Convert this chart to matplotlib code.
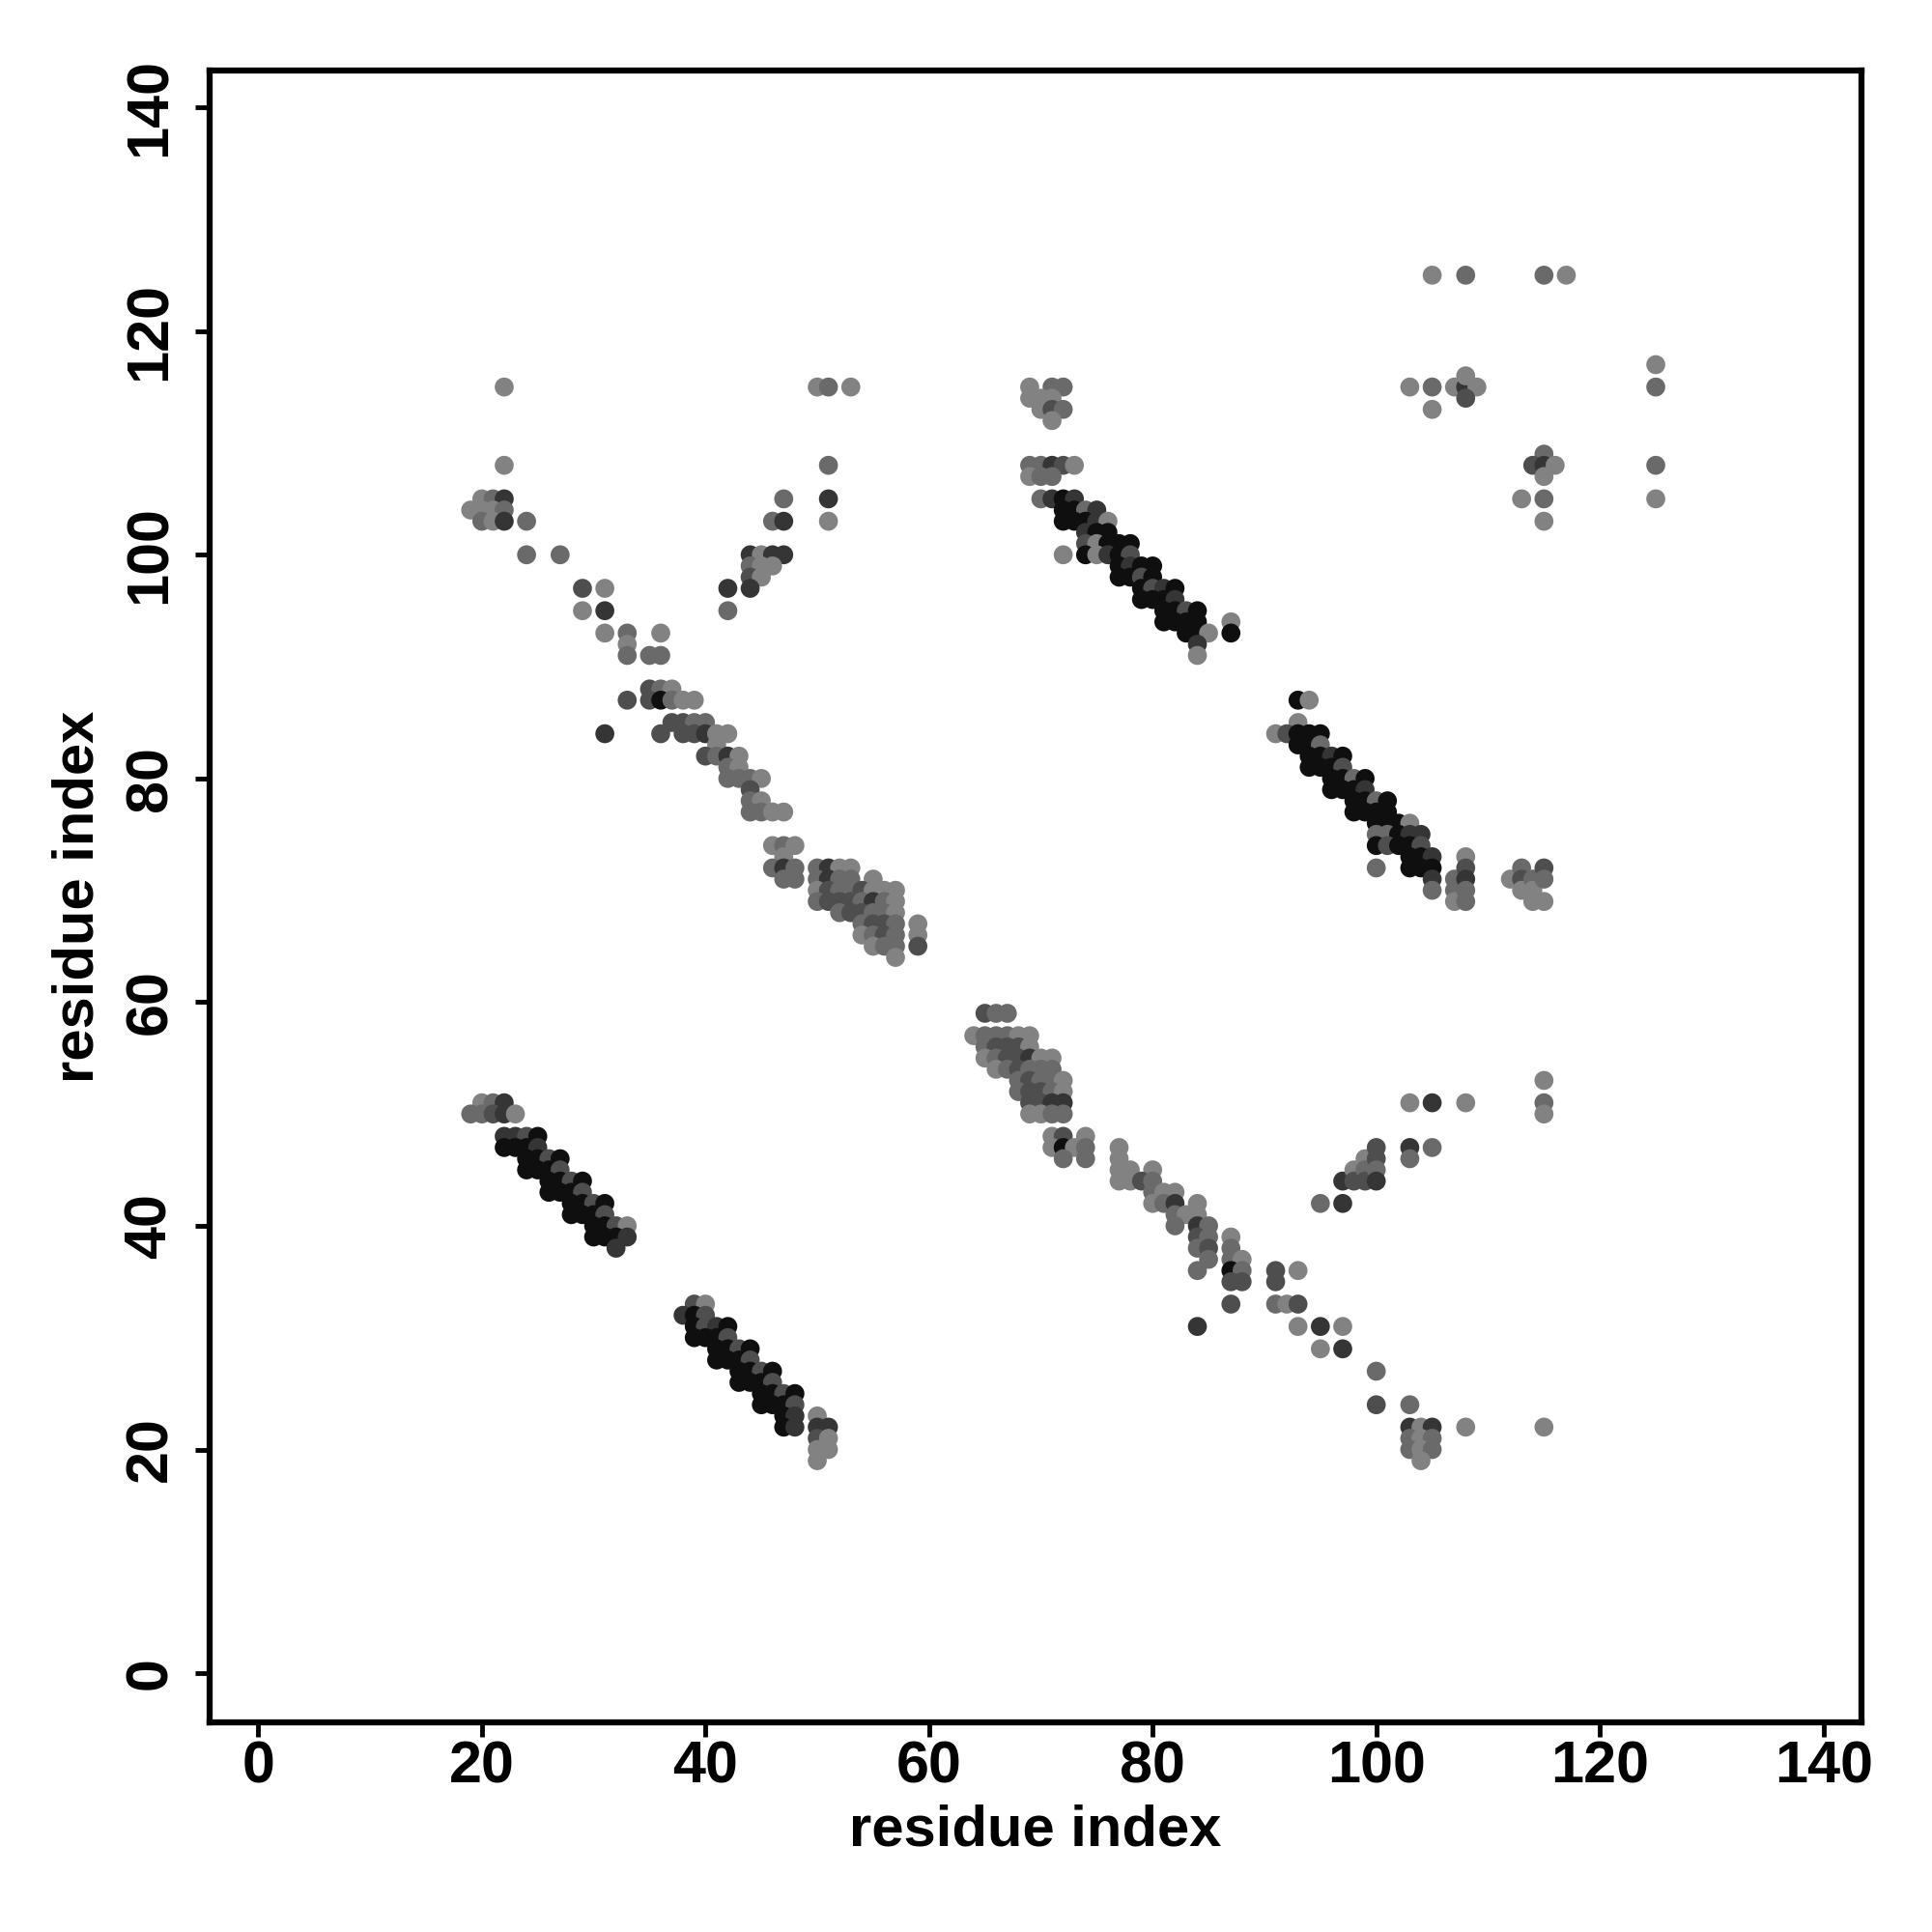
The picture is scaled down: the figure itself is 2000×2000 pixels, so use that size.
import matplotlib
matplotlib.use("Agg")
import matplotlib.pyplot as plt

# contact map points: (i, j, shade)  shade k=black .. l=light grey
band_a = [(20,51,'l'),(21,51,'g'),(22,51,'d'),
          (19,50,'g'),(20,50,'g'),(21,50,'m'),(22,50,'d'),(23,50,'l'),
          (22,48,'d'),(23,48,'d'),(24,48,'m'),(25,48,'k'),
          (22,47,'k'),(23,47,'k'),(24,47,'k'),(25,47,'d'),
          (24,46,'k'),(25,46,'k'),(26,46,'m'),(27,46,'k'),
          (24,45,'k'),(25,45,'k'),(26,45,'k'),(27,45,'m'),
          (26,44,'k'),(27,44,'k'),(28,44,'m'),(29,44,'k'),
          (26,43,'k'),(27,43,'k'),(28,43,'k'),(29,43,'m'),
          (28,42,'k'),(29,42,'k'),(30,42,'m'),(31,42,'k'),
          (28,41,'k'),(29,41,'k'),(30,41,'k'),(31,41,'m'),
          (30,40,'k'),(31,40,'k'),(32,40,'m'),(33,40,'l'),
          (30,39,'k'),(31,39,'k'),(32,39,'k'),(33,39,'d'),
          (32,38,'d')]

band_b = [(39,33,'m'),(40,33,'l'),
          (38,32,'d'),(39,32,'k'),(40,32,'m'),
          (39,31,'k'),(40,31,'m'),(41,31,'d'),(42,31,'k'),
          (39,30,'k'),(40,30,'k'),(41,30,'k'),(42,30,'m'),
          (41,29,'k'),(42,29,'k'),(43,29,'m'),(44,29,'k'),
          (41,28,'k'),(42,28,'k'),(43,28,'k'),(44,28,'m'),
          (43,27,'k'),(44,27,'k'),(45,27,'m'),(46,27,'k'),
          (43,26,'k'),(44,26,'k'),(45,26,'k'),(46,26,'m'),
          (45,25,'k'),(46,25,'k'),(47,25,'m'),(48,25,'k'),
          (45,24,'k'),(46,24,'k'),(47,24,'k'),(48,24,'m'),
          (47,23,'k'),(48,23,'d'),(47,22,'k'),(48,22,'d'),
          (50,23,'l'),(50,22,'d'),(51,22,'d'),(50,21,'m'),(51,21,'l'),
          (50,20,'l'),(51,20,'l'),(50,19,'l')]

band_c = [(22,115,'l'),(22,108,'l'),
          (20,105,'l'),(21,105,'g'),(22,105,'d'),
          (19,104,'l'),(20,104,'l'),(21,104,'l'),(22,104,'g'),
          (20,103,'g'),(21,103,'l'),(22,103,'d'),(24,103,'g'),
          (24,100,'g'),(27,100,'g'),
          (29,97,'m'),(31,97,'l'),(29,95,'l'),(31,95,'d'),
          (31,93,'l'),(33,93,'g'),(36,93,'l'),(33,92,'l'),
          (33,91,'g'),(35,91,'g'),(36,91,'g'),
          (35,88,'m'),(36,88,'g'),(37,88,'l'),
          (33,87,'m'),(35,87,'m'),(36,87,'k'),(37,87,'g'),(38,87,'l'),(39,87,'l'),
          (37,85,'m'),(38,85,'m'),(39,85,'g'),(40,85,'g'),
          (31,84,'d'),(36,84,'m'),(38,84,'m'),(39,84,'m'),(40,84,'d'),(41,84,'l'),(42,84,'l'),
          (41,83,'l'),
          (40,82,'m'),(41,82,'g'),(42,82,'d'),(43,82,'l'),
          (42,81,'g'),(43,81,'l'),
          (42,80,'g'),(43,80,'g'),(44,80,'g'),(45,80,'l'),
          (44,79,'m'),(44,78,'g'),(45,78,'l'),
          (44,77,'g'),(45,77,'g'),(46,77,'l'),(47,77,'l'),
          (46,74,'l'),(47,74,'g'),(48,74,'l'),(47,73,'l'),
          (46,72,'g'),(47,72,'d'),(48,72,'g'),(50,72,'g'),(51,72,'d'),(52,72,'l'),(53,72,'l'),
          (47,71,'g'),(48,71,'g'),(50,71,'g'),(51,71,'d'),(52,71,'g'),(53,71,'g'),(55,71,'l'),
          (50,70,'l'),(51,70,'m'),(52,70,'g'),(53,70,'g'),(54,70,'m'),(55,70,'l'),(56,70,'l'),(57,70,'l'),
          (50,69,'g'),(51,69,'m'),(52,69,'m'),(53,69,'m'),(54,69,'g'),(55,69,'d'),(56,69,'g'),(57,69,'l'),
          (52,68,'g'),(53,68,'m'),(54,68,'m'),(55,68,'g'),(56,68,'g'),(57,68,'l'),
          (54,67,'g'),(55,67,'m'),(56,67,'m'),(57,67,'g'),(59,67,'l'),
          (54,66,'l'),(55,66,'g'),(56,66,'m'),(57,66,'g'),(59,66,'l'),
          (55,65,'l'),(56,65,'g'),(57,65,'g'),(59,65,'m'),
          (57,64,'l')]

band_c2 = [(50,115,'l'),(51,115,'g'),(53,115,'l'),(51,108,'g'),
           (47,105,'g'),(51,105,'d'),
           (46,103,'g'),(47,103,'d'),(51,103,'l'),
           (44,100,'d'),(45,100,'l'),(46,100,'d'),(47,100,'d'),
           (44,99,'g'),(45,99,'l'),(46,99,'l'),(44,98,'m'),(45,98,'l'),
           (42,97,'d'),(44,97,'d'),(42,95,'g')]

band_d = [(69,115,'l'),(71,115,'g'),(72,115,'g'),
          (69,114,'l'),(70,114,'l'),(71,114,'l'),
          (70,113,'l'),(71,113,'m'),(72,113,'g'),(71,112,'l'),
          (69,108,'g'),(70,108,'g'),(71,108,'d'),(72,108,'m'),(73,108,'l'),
          (69,107,'l'),(70,107,'g'),(71,107,'g'),
          (70,105,'g'),(71,105,'d'),(72,105,'k'),(73,105,'d'),
          (72,104,'k'),(73,104,'k'),(74,104,'g'),(75,104,'d'),
          (72,103,'k'),(73,103,'k'),(74,103,'k'),(75,103,'d'),(76,103,'l'),
          (74,102,'d'),(75,102,'k'),(76,102,'k'),
          (74,101,'m'),(75,101,'l'),(76,101,'k'),(77,101,'k'),(78,101,'k'),
          (72,100,'l'),(74,100,'k'),(75,100,'l'),(76,100,'d'),(77,100,'k'),(78,100,'m'),
          (77,99,'k'),(78,99,'d'),(79,99,'k'),(80,99,'k'),
          (77,98,'k'),(78,98,'k'),(79,98,'m'),(80,98,'k'),
          (79,97,'k'),(80,97,'m'),(81,97,'d'),(82,97,'k'),
          (79,96,'k'),(80,96,'k'),(81,96,'k'),(82,96,'d'),
          (81,95,'k'),(82,95,'k'),(83,95,'m'),(84,95,'k'),
          (81,94,'k'),(82,94,'k'),(83,94,'k'),(84,94,'k'),
          (83,93,'k'),(84,93,'k'),(85,93,'l'),
          (87,94,'l'),(87,93,'k'),(84,92,'d'),(84,91,'l')]

band_e = [(65,59,'m'),(66,59,'g'),(67,59,'g'),
          (64,57,'l'),(65,57,'g'),(66,57,'g'),(67,57,'g'),(68,57,'l'),(69,57,'l'),
          (65,56,'g'),(66,56,'m'),(67,56,'m'),(68,56,'m'),(69,56,'l'),
          (65,55,'l'),(66,55,'g'),(67,55,'m'),(68,55,'m'),(69,55,'d'),(70,55,'l'),(71,55,'l'),
          (66,54,'l'),(67,54,'g'),(68,54,'m'),(69,54,'g'),(70,54,'g'),(71,54,'g'),
          (68,53,'g'),(69,53,'m'),(70,53,'g'),(71,53,'g'),(72,53,'l'),
          (68,52,'g'),(69,52,'m'),(70,52,'m'),(71,52,'g'),(72,52,'l'),
          (69,51,'m'),(70,51,'m'),(71,51,'d'),(72,51,'d'),
          (69,50,'l'),(70,50,'l'),(71,50,'g'),(72,50,'g'),
          (71,48,'l'),(72,48,'m'),(74,48,'l'),
          (71,47,'l'),(72,47,'k'),(73,47,'l'),(74,47,'g'),
          (72,46,'g'),(74,46,'g'),
          (77,47,'l'),(77,46,'l'),
          (77,45,'l'),(78,45,'l'),(80,45,'l'),
          (77,44,'l'),(78,44,'l'),(79,44,'m'),(80,44,'g'),
          (80,43,'g'),(81,43,'l'),(82,43,'l'),
          (80,42,'l'),(81,42,'g'),(82,42,'d'),(84,42,'l'),
          (82,41,'g'),(83,41,'l'),(84,41,'l'),
          (82,40,'g'),(84,40,'d'),(85,40,'g'),
          (84,39,'m'),(85,39,'g'),(87,39,'l'),
          (84,38,'g'),(85,38,'m'),(87,38,'g'),
          (85,37,'g'),(87,37,'g'),(88,37,'l'),
          (84,36,'g'),(87,36,'k'),(88,36,'g'),
          (87,35,'m'),(88,35,'m'),(87,33,'m'),(84,31,'d')]

band_f = [(91,36,'m'),(91,35,'m'),(91,33,'g'),(92,33,'l'),(93,36,'l'),(93,33,'m'),(93,31,'l'),
          (95,42,'g'),(95,31,'d'),(95,29,'l'),
          (97,44,'d'),(97,42,'d'),(97,31,'l'),(97,29,'d'),
          (98,45,'l'),(98,44,'m'),(99,46,'l'),(99,45,'g'),(99,44,'m'),
          (100,47,'m'),(100,46,'m'),(100,45,'g'),(100,44,'d'),
          (100,27,'g'),(100,24,'m'),
          (103,47,'d'),(103,46,'g'),(105,47,'g'),
          (103,51,'l'),(105,51,'d'),(108,51,'l'),
          (115,53,'l'),(115,51,'g'),(115,50,'l'),
          (103,24,'g'),(103,22,'d'),(104,22,'l'),(105,22,'d'),(108,22,'l'),(115,22,'l'),
          (103,21,'g'),(104,21,'l'),(105,21,'g'),
          (103,20,'g'),(104,20,'l'),(105,20,'g'),(104,19,'l')]

band_g = [(93,87,'k'),(94,87,'l'),(93,85,'l'),
          (91,84,'l'),(92,84,'m'),(93,84,'k'),(94,84,'k'),(95,84,'k'),
          (93,83,'k'),(94,83,'k'),(95,83,'g'),
          (94,82,'k'),(95,82,'k'),(96,82,'d'),(97,82,'k'),
          (94,81,'k'),(95,81,'k'),(96,81,'k'),(97,81,'m'),
          (96,80,'k'),(97,80,'k'),(98,80,'g'),(99,80,'k'),
          (96,79,'k'),(97,79,'k'),(98,79,'k'),(99,79,'d'),
          (98,78,'k'),(99,78,'k'),(100,78,'g'),(101,78,'k'),
          (98,77,'k'),(99,77,'k'),(100,77,'k'),(101,77,'k'),
          (100,76,'k'),(101,76,'k'),(102,76,'k'),(103,76,'l'),
          (100,75,'g'),(101,75,'g'),(102,75,'k'),(103,75,'d'),(104,75,'d'),
          (100,74,'k'),(101,74,'m'),(102,74,'k'),(103,74,'k'),(104,74,'m'),
          (103,73,'k'),(104,73,'k'),(105,73,'d'),
          (100,72,'g'),(103,72,'k'),(104,72,'k'),(105,72,'k'),
          (105,71,'d'),(105,70,'g'),
          (107,71,'g'),(107,70,'g'),(107,69,'l'),
          (108,73,'l'),(108,72,'m'),(108,71,'d'),(108,70,'g'),(108,69,'g'),
          (112,71,'l'),(113,72,'g'),(113,71,'m'),(113,70,'l'),
          (114,71,'g'),(114,70,'l'),(114,69,'l'),
          (115,72,'m'),(115,71,'g'),(115,69,'l')]

band_h = [(105,125,'l'),(108,125,'g'),(115,125,'g'),(117,125,'l'),
          (125,117,'l'),(125,115,'g'),
          (103,115,'l'),(105,115,'g'),(107,115,'l'),(108,115,'d'),(109,115,'l'),
          (108,116,'l'),(108,114,'m'),(105,113,'l'),
          (125,108,'g'),(125,105,'l'),
          (115,109,'g'),(114,108,'m'),(115,108,'d'),(116,108,'l'),(115,107,'l'),
          (113,105,'l'),(115,105,'g'),(115,103,'l')]

ticks = [0, 20, 40, 60, 80, 100, 120, 140]

shade_col = {'k': '#0f0f0f', 'd': '#353535', 'm': '#4e4e4e', 'g': '#6a6a6a', 'l': '#828282'}

plt.rcParams['font.family'] = ['Liberation Sans', 'DejaVu Sans']
plt.rcParams['font.weight'] = 'bold'

fig = plt.figure(figsize=(20, 20), dpi=100)
ax = fig.add_axes([0.1085, 0.1085, 0.855, 0.855])

pts = band_a + band_b + band_c + band_c2 + band_d + band_e + band_f + band_g + band_h
xs = [p[0] for p in pts]
ys = [p[1] for p in pts]
cs = [shade_col[p[2]] for p in pts]
ax.scatter(xs, ys, s=200, c=cs, edgecolors='none')

ax.set_xlim(-4.35, 143.4)
ax.set_ylim(-4.4, 143.3)
ax.set_xticks(ticks)
ax.set_yticks(ticks)
for sp in ax.spines.values():
    sp.set_linewidth(4.5)
ax.tick_params(length=11, width=3.5, labelsize=44)
ax.tick_params(axis='x', pad=2)
ax.tick_params(axis='y', pad=12)
plt.setp(ax.get_yticklabels(), rotation=90, va='center')
ax.set_xlabel('residue index', fontsize=43, fontweight='bold', labelpad=7)
ax.set_ylabel('residue index', fontsize=43, fontweight='bold', labelpad=14)

fig.savefig('out.png', dpi=100)
